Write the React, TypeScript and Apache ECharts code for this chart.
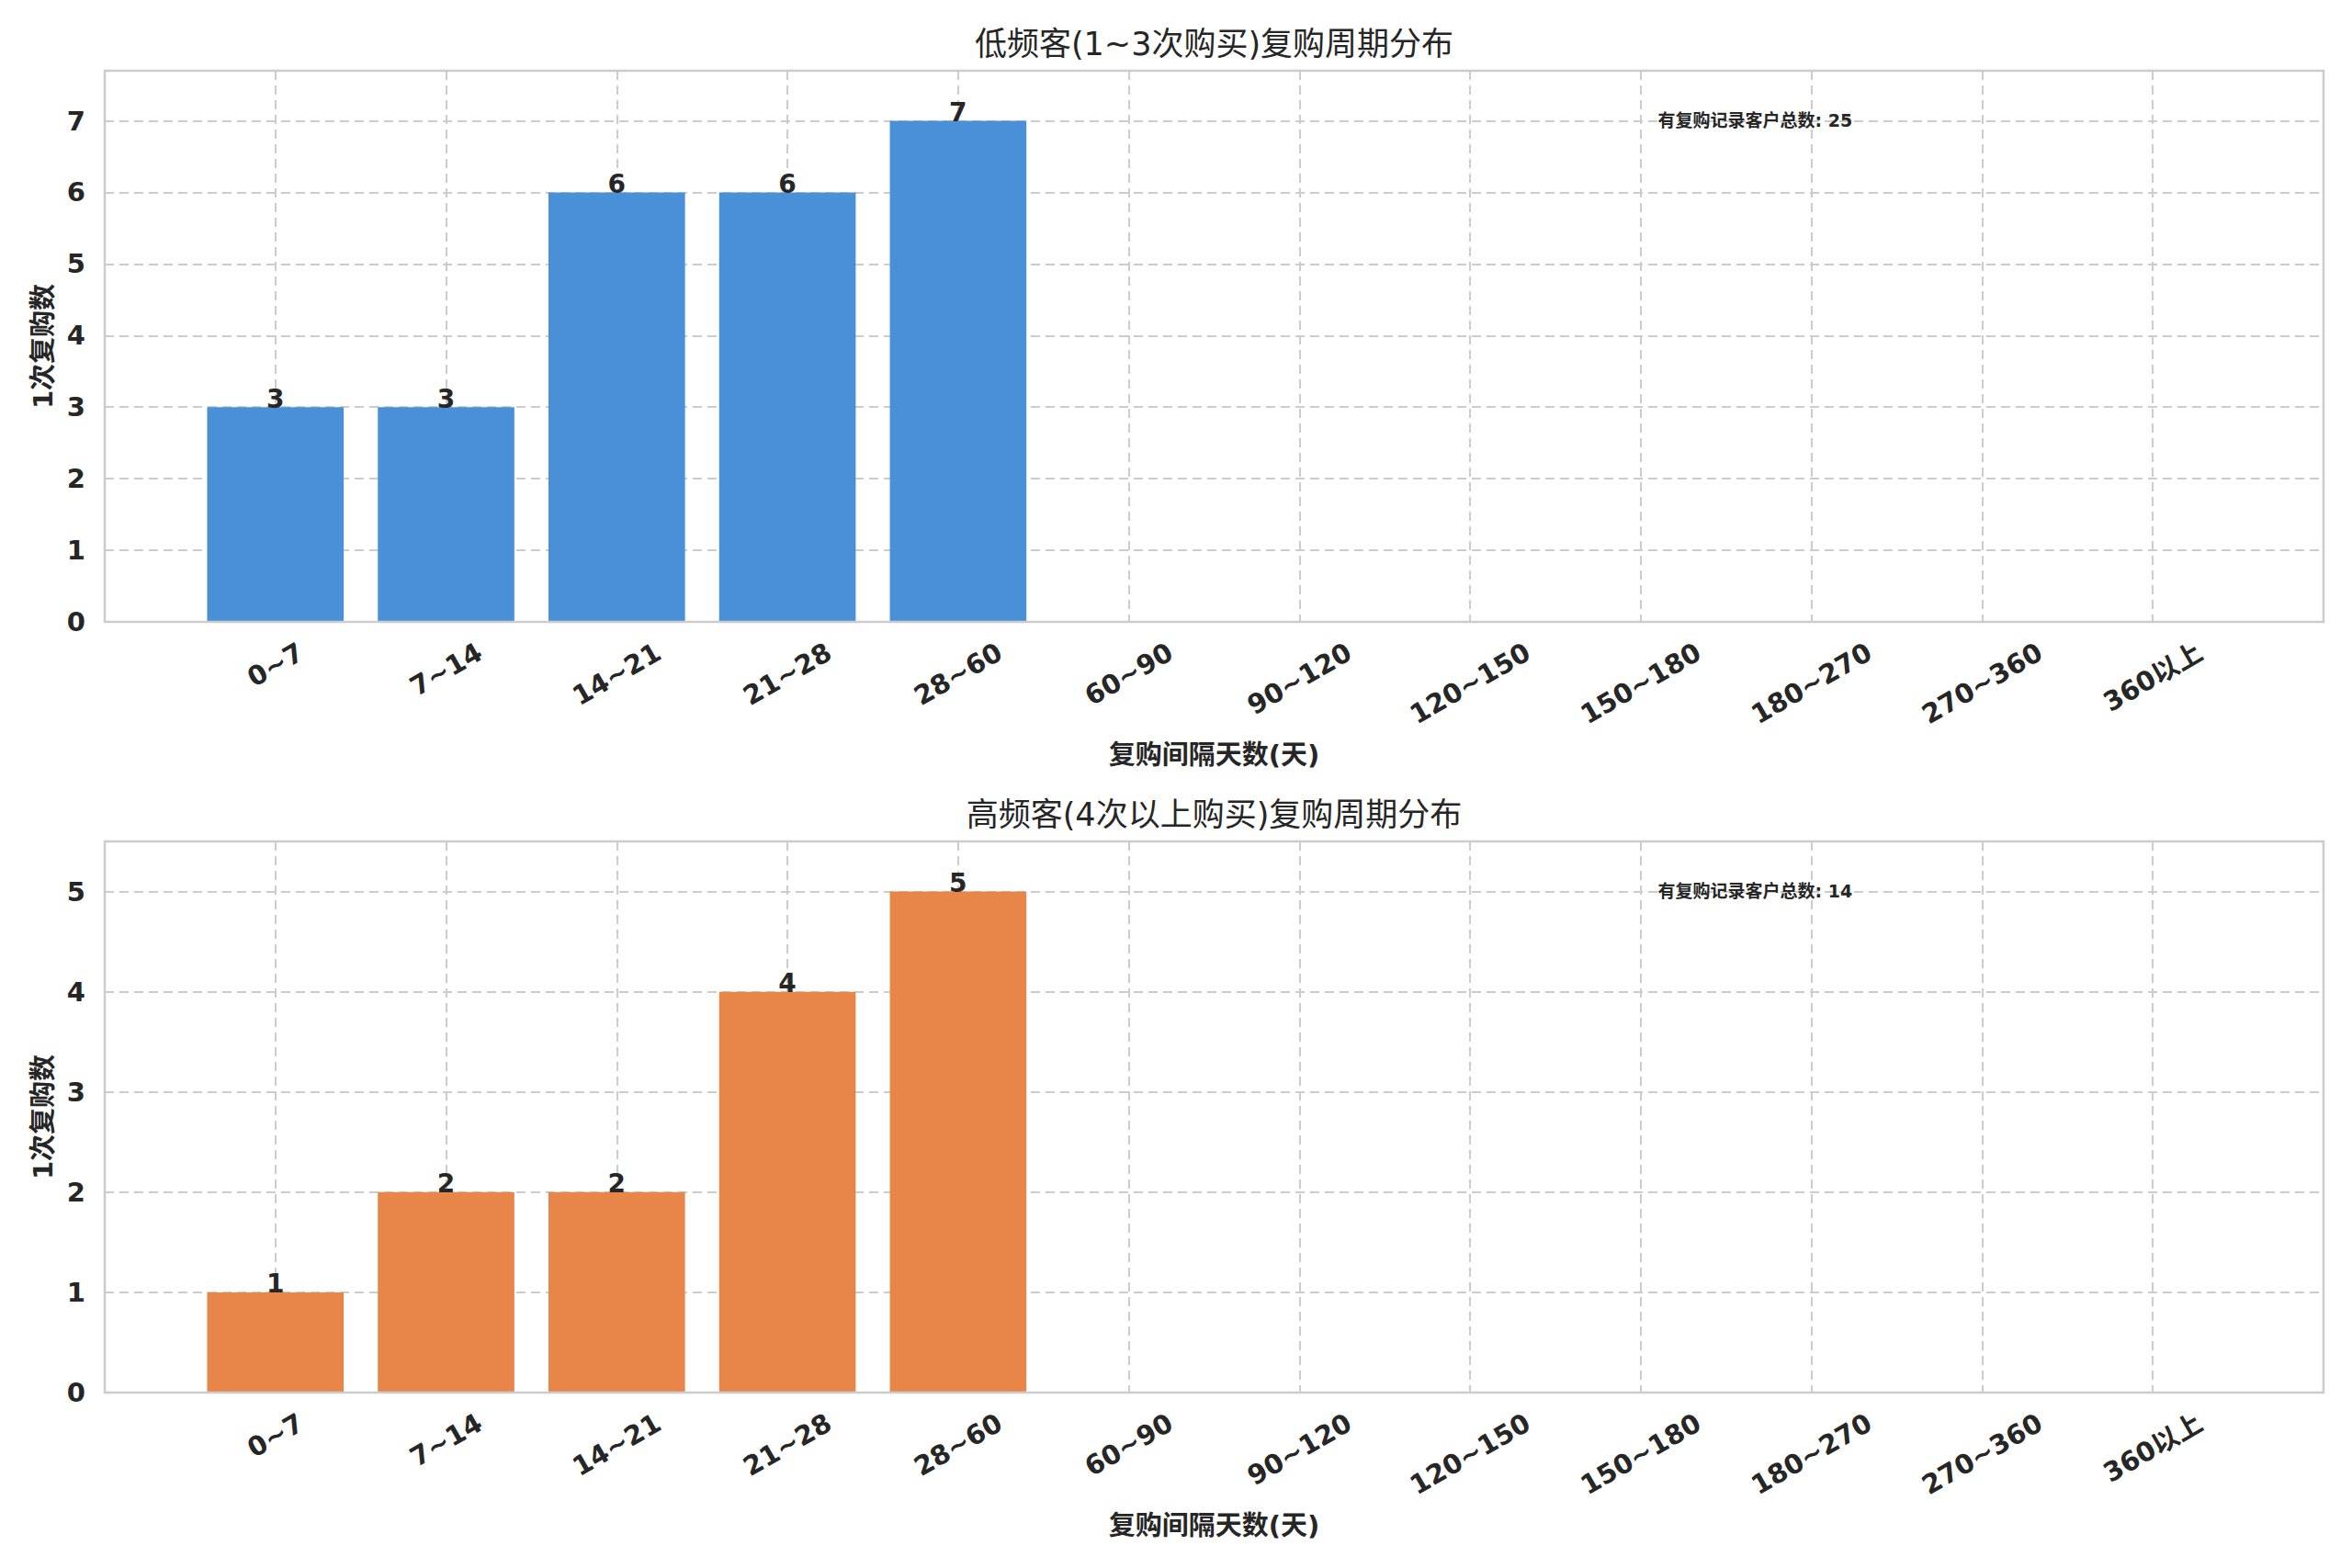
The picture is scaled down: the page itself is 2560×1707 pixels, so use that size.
import React, { useEffect, useRef } from 'react';
import * as echarts from 'echarts';

const categories = ['0~7', '7~14', '14~21', '21~28', '28~60', '60~90', '90~120', '120~150', '150~180', '180~270', '270~360', '360以上'];
const lowFreqCounts = [3, 3, 6, 6, 7, 0, 0, 0, 0, 0, 0, 0];
const highFreqCounts = [1, 2, 2, 4, 5, 0, 0, 0, 0, 0, 0, 0];
const titles = ['低频客(1~3次购买)复购周期分布', '高频客(4次以上购买)复购周期分布'];
const xAxisName = '复购间隔天数(天)';
const yAxisName = '1次复购数';
const totalLabel = '有复购记录客户总数';
const barColors = ['#4A90D9', '#E8864A'];

const FONT = '"DejaVu Sans", "Noto Sans CJK SC", sans-serif';
const TEXT = '#262626';
const GRID_LEFT = 114;
const GRID_WIDTH = 2415;
const GRID_HEIGHT = 600;
const GRID_TOPS = [77, 916];
const TICK_FS = 29;

function measure(text: string, font: string): number {
  const c = document.createElement('canvas');
  const ctx = c.getContext('2d');
  if (!ctx) return text.length * TICK_FS * 0.7;
  ctx.font = font;
  return ctx.measureText(text).width;
}

export default function App() {
  const ref = useRef<HTMLDivElement>(null);
  useEffect(() => {
    const chart = echarts.init(ref.current!, null, { renderer: 'svg' });
    const seriesValues = [lowFreqCounts, highFreqCounts];
    const labelFont = `bold ${TICK_FS}px ${FONT}`;
    const widths = categories.map((c) => measure(c, labelFont));
    const pad = 18;

    const grid = GRID_TOPS.map((top) => ({
      left: GRID_LEFT,
      top,
      width: GRID_WIDTH,
      height: GRID_HEIGHT,
      show: true,
      borderColor: '#cccccc',
      borderWidth: 2.5,
      backgroundColor: 'transparent',
      z: 3,
    }));

    const splitLine = { show: true, lineStyle: { color: '#cccccc', width: 2, type: [10, 6] } };

    const xAxis = GRID_TOPS.map((_, k) => ({
      type: 'value',
      gridIndex: k,
      min: -1,
      max: categories.length,
      interval: 1,
      axisLine: { show: false },
      axisTick: { show: false },
      axisLabel: { show: false },
      splitLine,
      name: xAxisName,
      nameLocation: 'middle',
      nameGap: 130,
      nameTextStyle: { fontSize: TICK_FS, fontWeight: 'bold', color: TEXT, fontFamily: FONT },
    }));

    const yAxis = seriesValues.map((vals, k) => ({
      type: 'value',
      gridIndex: k,
      min: 0,
      max: Math.max(...vals) * 1.1,
      interval: 1,
      axisLine: { show: false },
      axisTick: { show: false },
      axisLabel: {
        fontSize: TICK_FS,
        fontWeight: 'bold',
        color: TEXT,
        fontFamily: FONT,
        margin: 21,
        formatter: (v: number) => (Number.isInteger(v) ? String(v) : ''),
      },
      splitLine,
      name: yAxisName,
      nameLocation: 'middle',
      nameGap: 51,
      nameTextStyle: { fontSize: TICK_FS, fontWeight: 'bold', color: TEXT, fontFamily: FONT },
    }));

    const series: any[] = [];
    seriesValues.forEach((vals, k) => {
      series.push({
        type: 'bar',
        xAxisIndex: k,
        yAxisIndex: k,
        data: vals.map((v, i) => [i, v]),
        barWidth: '80%',
        itemStyle: { color: barColors[k] },
        label: {
          show: true,
          position: 'top',
          distance: -5,
          fontSize: 28,
          fontWeight: 'bold',
          color: TEXT,
          fontFamily: FONT,
          formatter: (p: any) => (p.value[1] > 0 ? String(p.value[1]) : ''),
        },
      });
      series.push({
        type: 'custom',
        xAxisIndex: k,
        yAxisIndex: k,
        clip: false,
        silent: true,
        data: categories.map((_, i) => [i, 0]),
        encode: { x: 0, y: 1 },
        renderItem: (params: any, api: any) => {
          const i = api.value(0);
          const p = api.coord([i, 0]);
          const w = widths[i];
          const H = w * 0.5 + TICK_FS * 0.866;
          return {
            type: 'text',
            x: p[0],
            y: p[1] + pad + H / 2,
            rotation: Math.PI / 6,
            style: {
              text: categories[i],
              fontSize: TICK_FS,
              fontWeight: 'bold',
              fontFamily: FONT,
              fill: TEXT,
              align: 'center',
              verticalAlign: 'middle',
            },
          };
        },
      });
    });

    const graphic: any[] = [];
    GRID_TOPS.forEach((top, k) => {
      graphic.push({
        type: 'text',
        x: GRID_LEFT + GRID_WIDTH / 2,
        y: top - 29,
        style: {
          text: titles[k],
          fontSize: 35,
          fontWeight: 'normal',
          fontFamily: FONT,
          fill: TEXT,
          align: 'center',
          verticalAlign: 'middle',
        },
      });
      const total = seriesValues[k].reduce((a, b) => a + b, 0);
      graphic.push({
        type: 'text',
        x: GRID_LEFT + 0.7 * GRID_WIDTH,
        y: top + 0.09 * GRID_HEIGHT,
        z: 10,
        style: {
          text: `${totalLabel}: ${total}`,
          fontSize: 19,
          fontWeight: 'bold',
          fontFamily: FONT,
          fill: TEXT,
          align: 'left',
          verticalAlign: 'middle',
        },
      });
    });

    chart.setOption({
      animation: false,
      backgroundColor: '#ffffff',
      textStyle: { fontFamily: FONT },
      grid,
      xAxis,
      yAxis,
      series,
      graphic,
    });
    return () => chart.dispose();
  }, []);

  return (
    <div
      ref={ref}
      style={{ position: 'fixed', left: 0, top: 0, width: 2560, height: 1707, background: '#ffffff' }}
    />
  );
}
